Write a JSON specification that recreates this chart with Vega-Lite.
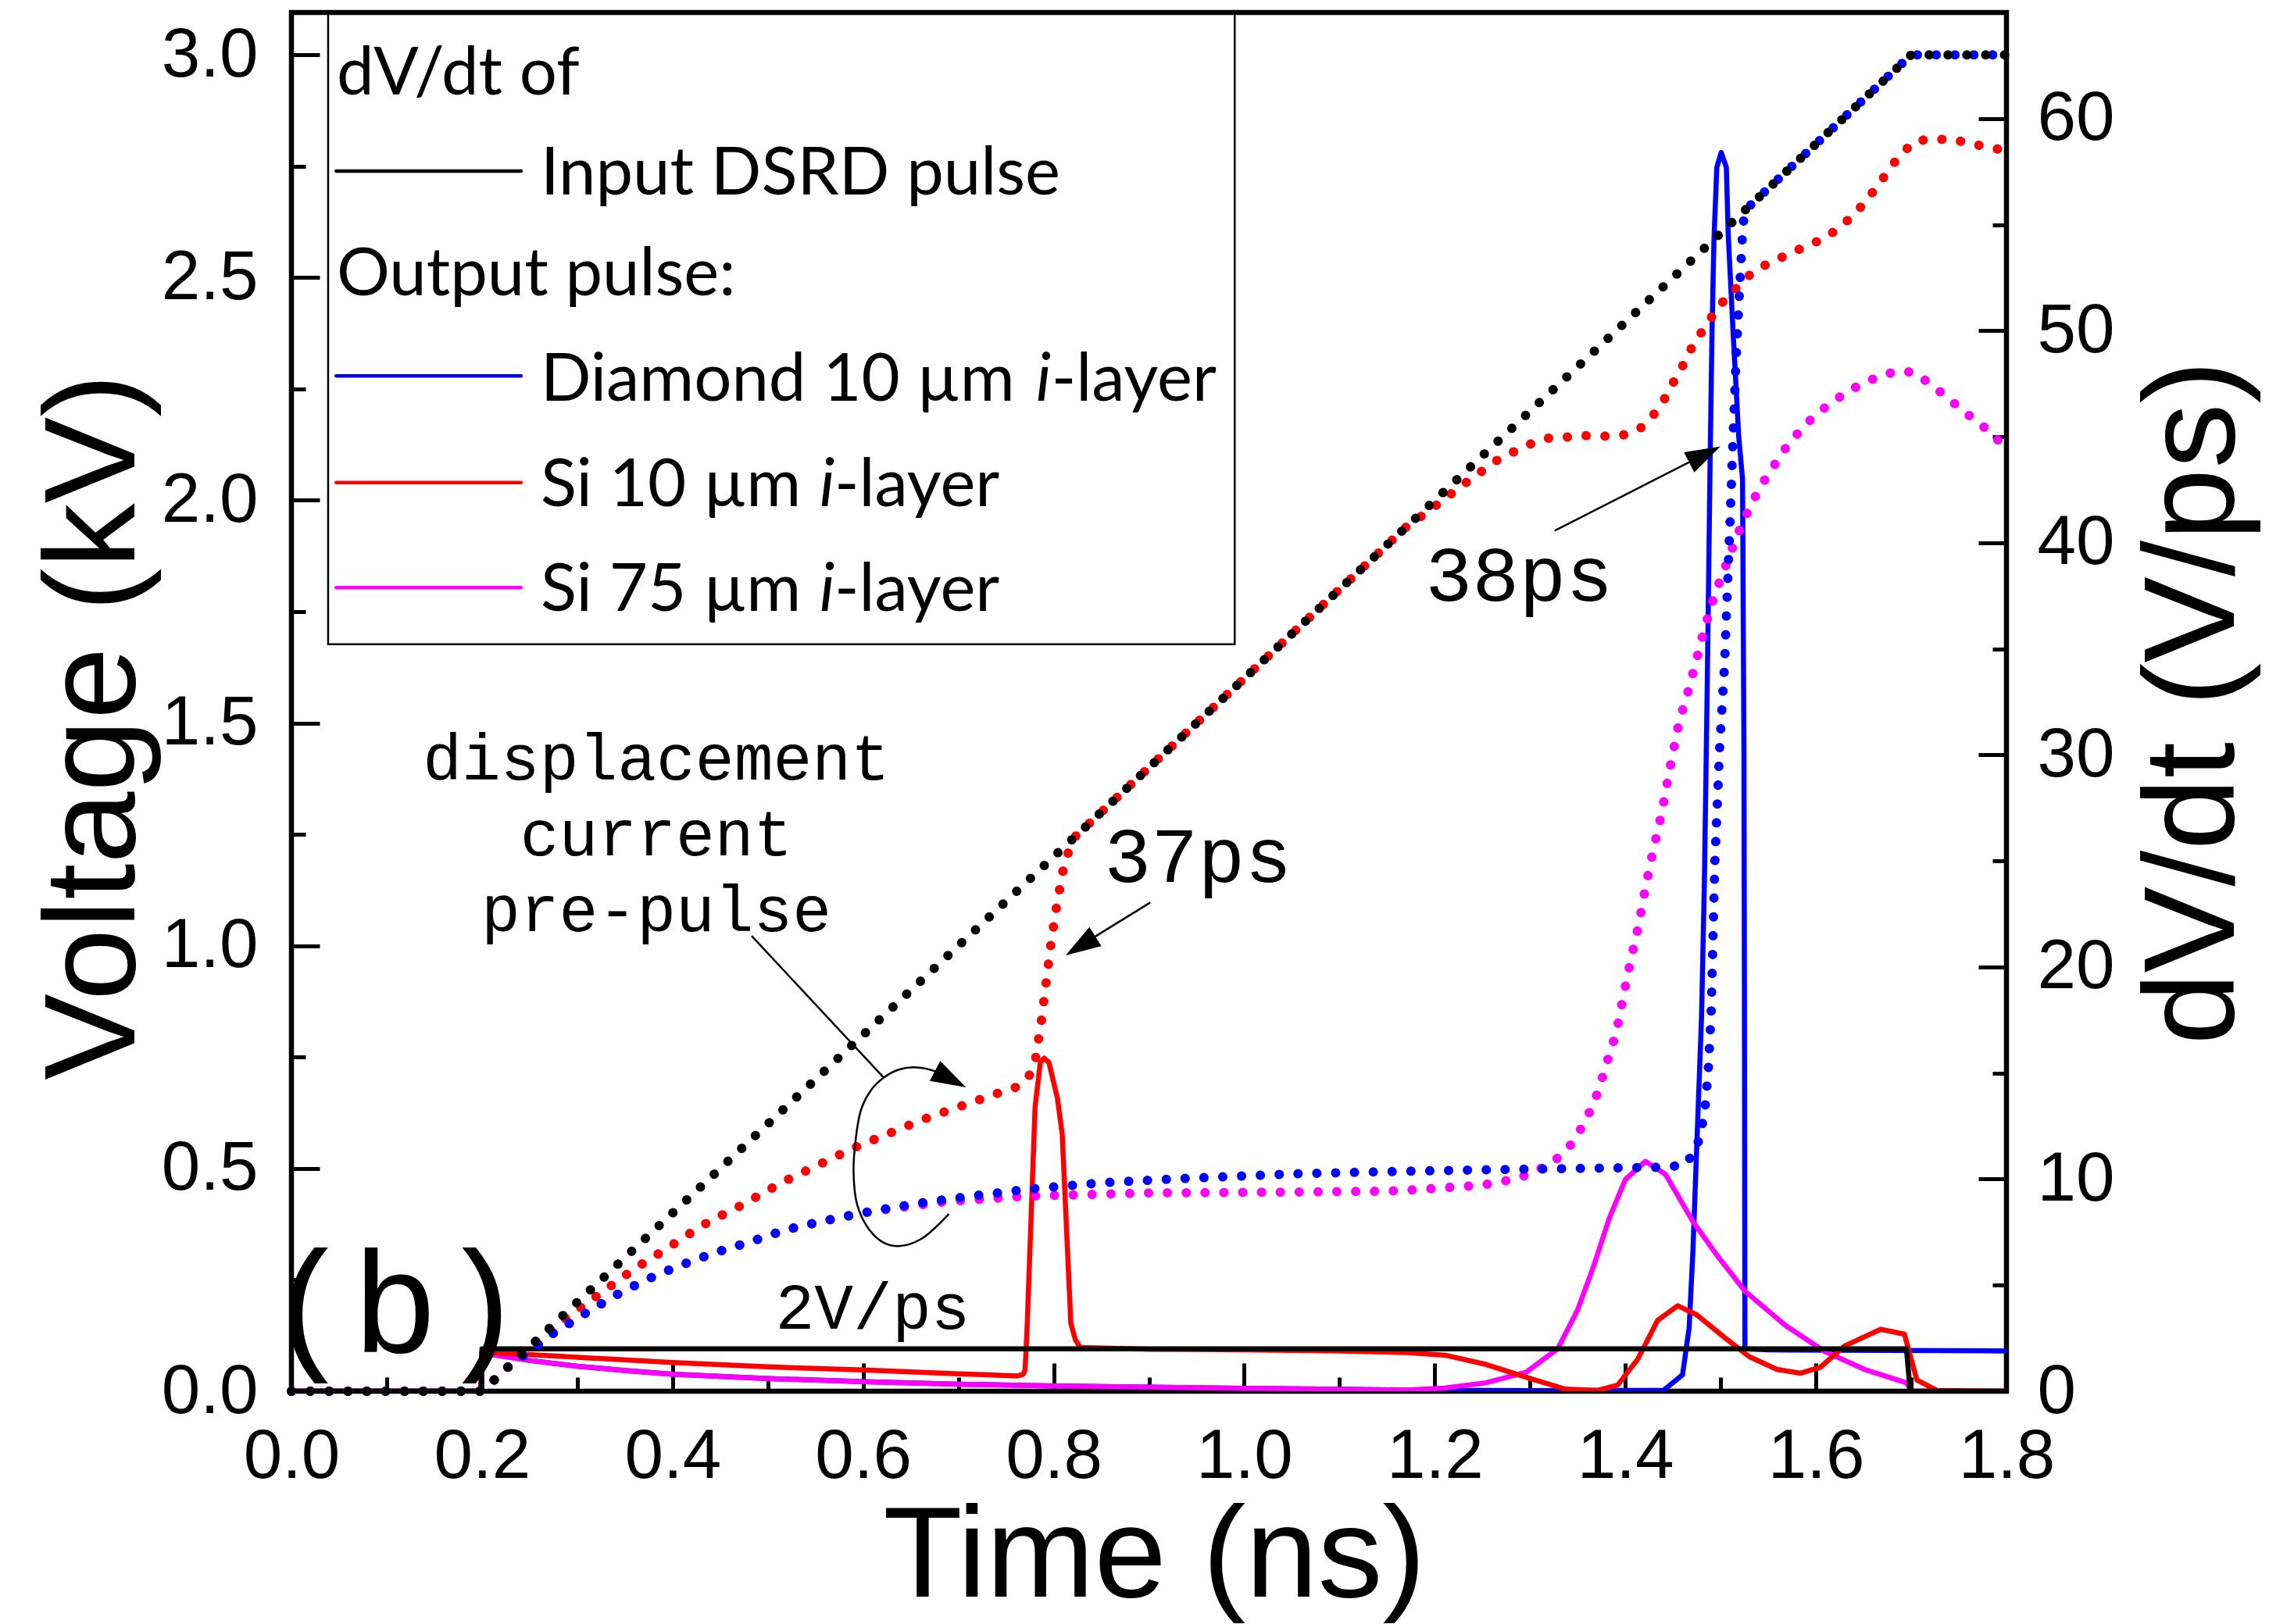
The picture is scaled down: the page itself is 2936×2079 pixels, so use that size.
{
  "$schema": "https://vega.github.io/schema/vega-lite/v6.json",
  "width": 2195,
  "height": 1765,
  "autosize": {"type": "none"},
  "padding": {"left": 373, "top": 16, "right": 368, "bottom": 298},
  "background": "white",
  "config": {
    "view": {"stroke": "black", "strokeWidth": 6.5},
    "axis": {
      "domain": false, "grid": false, "zindex": 1,
      "labelFont": "Liberation Sans", "labelFontSize": 89, "labelColor": "black",
      "labelFlush": false, "labelOverlap": false,
      "titleFont": "Liberation Sans", "titleFontSize": 166, "titleFontWeight": "normal", "titleColor": "black",
      "tickColor": "black", "tickWidth": 5
    }
  },
  "resolve": {"scale": {"y": "independent"}, "axis": {"x": "independent", "y": "independent"}},
  "datasets": {
    "volt": [
      {"s":"si75","t":0,"v":0},{"s":"si75","t":0.2,"v":0},{"s":"si75","t":0.215,"v":0.03},{"s":"si75","t":0.228,"v":0.056},{"s":"si75","t":0.25,"v":0.09},{"s":"si75","t":0.275,"v":0.13},{"s":"si75","t":0.307,"v":0.173},{"s":"si75","t":0.34,"v":0.215},{"s":"si75","t":0.371,"v":0.249},{"s":"si75","t":0.404,"v":0.279},{"s":"si75","t":0.443,"v":0.31},{"s":"si75","t":0.481,"v":0.335},{"s":"si75","t":0.518,"v":0.362},{"s":"si75","t":0.556,"v":0.381},{"s":"si75","t":0.594,"v":0.398},{"s":"si75","t":0.63,"v":0.41},{"s":"si75","t":0.684,"v":0.425},{"s":"si75","t":0.77,"v":0.438},{"s":"si75","t":0.9,"v":0.445},{"s":"si75","t":1.05,"v":0.447},{"s":"si75","t":1.15,"v":0.449},{"s":"si75","t":1.178,"v":0.452},{"s":"si75","t":1.199,"v":0.455},{"s":"si75","t":1.239,"v":0.461},{"s":"si75","t":1.26,"v":0.466},{"s":"si75","t":1.278,"v":0.474},{"s":"si75","t":1.298,"v":0.486},{"s":"si75","t":1.317,"v":0.506},{"s":"si75","t":1.33,"v":0.525},{"s":"si75","t":1.343,"v":0.554},{"s":"si75","t":1.353,"v":0.588},{"s":"si75","t":1.362,"v":0.625},{"s":"si75","t":1.37,"v":0.665},{"s":"si75","t":1.376,"v":0.705},{"s":"si75","t":1.382,"v":0.747},{"s":"si75","t":1.388,"v":0.788},{"s":"si75","t":1.393,"v":0.831},{"s":"si75","t":1.397,"v":0.877},{"s":"si75","t":1.405,"v":0.961},{"s":"si75","t":1.414,"v":1.046},{"s":"si75","t":1.421,"v":1.129},{"s":"si75","t":1.429,"v":1.212},{"s":"si75","t":1.438,"v":1.296},{"s":"si75","t":1.446,"v":1.39},{"s":"si75","t":1.457,"v":1.509},{"s":"si75","t":1.463,"v":1.548},{"s":"si75","t":1.473,"v":1.628},{"s":"si75","t":1.483,"v":1.712},{"s":"si75","t":1.494,"v":1.79},{"s":"si75","t":1.504,"v":1.845},{"s":"si75","t":1.516,"v":1.914},{"s":"si75","t":1.524,"v":1.954},{"s":"si75","t":1.532,"v":1.99},{"s":"si75","t":1.54,"v":2.023},{"s":"si75","t":1.55,"v":2.059},{"s":"si75","t":1.56,"v":2.09},{"s":"si75","t":1.57,"v":2.123},{"s":"si75","t":1.585,"v":2.16},{"s":"si75","t":1.6,"v":2.193},{"s":"si75","t":1.616,"v":2.218},{"s":"si75","t":1.633,"v":2.244},{"s":"si75","t":1.652,"v":2.265},{"s":"si75","t":1.671,"v":2.282},{"s":"si75","t":1.689,"v":2.291},{"s":"si75","t":1.704,"v":2.286},{"s":"si75","t":1.72,"v":2.261},{"s":"si75","t":1.735,"v":2.236},{"s":"si75","t":1.75,"v":2.209},{"s":"si75","t":1.764,"v":2.185},{"s":"si75","t":1.779,"v":2.16},{"s":"si75","t":1.793,"v":2.131},{"s":"si75","t":1.8,"v":2.125},
      {"s":"si10","t":0,"v":0},{"s":"si10","t":0.2,"v":0},{"s":"si10","t":0.215,"v":0.03},{"s":"si10","t":0.26,"v":0.117},{"s":"si10","t":0.292,"v":0.17},{"s":"si10","t":0.326,"v":0.222},{"s":"si10","t":0.358,"v":0.272},{"s":"si10","t":0.393,"v":0.319},{"s":"si10","t":0.426,"v":0.365},{"s":"si10","t":0.444,"v":0.388},{"s":"si10","t":0.462,"v":0.405},{"s":"si10","t":0.516,"v":0.47},{"s":"si10","t":0.59,"v":0.546},{"s":"si10","t":0.664,"v":0.611},{"s":"si10","t":0.74,"v":0.668},{"s":"si10","t":0.76,"v":0.682},{"s":"si10","t":0.774,"v":0.707},{"s":"si10","t":0.781,"v":0.747},{"s":"si10","t":0.787,"v":0.83},{"s":"si10","t":0.792,"v":0.916},{"s":"si10","t":0.797,"v":1.002},{"s":"si10","t":0.803,"v":1.088},{"s":"si10","t":0.81,"v":1.171},{"s":"si10","t":0.816,"v":1.214},{"s":"si10","t":0.823,"v":1.246},{"s":"si10","t":1.17,"v":1.94},{"s":"si10","t":1.195,"v":1.978},{"s":"si10","t":1.212,"v":2.006},{"s":"si10","t":1.229,"v":2.034},{"s":"si10","t":1.246,"v":2.06},{"s":"si10","t":1.263,"v":2.087},{"s":"si10","t":1.281,"v":2.107},{"s":"si10","t":1.3,"v":2.126},{"s":"si10","t":1.318,"v":2.139},{"s":"si10","t":1.339,"v":2.142},{"s":"si10","t":1.359,"v":2.145},{"s":"si10","t":1.379,"v":2.144},{"s":"si10","t":1.399,"v":2.147},{"s":"si10","t":1.415,"v":2.16},{"s":"si10","t":1.429,"v":2.19},{"s":"si10","t":1.441,"v":2.227},{"s":"si10","t":1.451,"v":2.267},{"s":"si10","t":1.461,"v":2.305},{"s":"si10","t":1.47,"v":2.344},{"s":"si10","t":1.481,"v":2.381},{"s":"si10","t":1.492,"v":2.416},{"s":"si10","t":1.504,"v":2.45},{"s":"si10","t":1.533,"v":2.511},{"s":"si10","t":1.551,"v":2.533},{"s":"si10","t":1.57,"v":2.551},{"s":"si10","t":1.589,"v":2.57},{"s":"si10","t":1.607,"v":2.586},{"s":"si10","t":1.623,"v":2.609},{"s":"si10","t":1.638,"v":2.637},{"s":"si10","t":1.652,"v":2.67},{"s":"si10","t":1.665,"v":2.707},{"s":"si10","t":1.677,"v":2.742},{"s":"si10","t":1.688,"v":2.775},{"s":"si10","t":1.705,"v":2.807},{"s":"si10","t":1.725,"v":2.811},{"s":"si10","t":1.745,"v":2.809},{"s":"si10","t":1.765,"v":2.8},{"s":"si10","t":1.785,"v":2.79},{"s":"si10","t":1.8,"v":2.786},
      {"s":"diamond","t":0,"v":0},{"s":"diamond","t":0.2,"v":0},{"s":"diamond","t":0.215,"v":0.03},{"s":"diamond","t":0.228,"v":0.056},{"s":"diamond","t":0.25,"v":0.09},{"s":"diamond","t":0.275,"v":0.13},{"s":"diamond","t":0.307,"v":0.173},{"s":"diamond","t":0.34,"v":0.215},{"s":"diamond","t":0.371,"v":0.249},{"s":"diamond","t":0.404,"v":0.279},{"s":"diamond","t":0.443,"v":0.31},{"s":"diamond","t":0.481,"v":0.335},{"s":"diamond","t":0.518,"v":0.362},{"s":"diamond","t":0.556,"v":0.381},{"s":"diamond","t":0.594,"v":0.398},{"s":"diamond","t":0.611,"v":0.405},{"s":"diamond","t":0.668,"v":0.425},{"s":"diamond","t":0.714,"v":0.438},{"s":"diamond","t":0.771,"v":0.453},{"s":"diamond","t":0.851,"v":0.468},{"s":"diamond","t":0.931,"v":0.477},{"s":"diamond","t":1.051,"v":0.488},{"s":"diamond","t":1.15,"v":0.493},{"s":"diamond","t":1.25,"v":0.497},{"s":"diamond","t":1.35,"v":0.5},{"s":"diamond","t":1.441,"v":0.503},{"s":"diamond","t":1.463,"v":0.508},{"s":"diamond","t":1.475,"v":0.547},{"s":"diamond","t":1.48,"v":0.589},{"s":"diamond","t":1.4835,"v":0.632},{"s":"diamond","t":1.487,"v":0.719},{"s":"diamond","t":1.489,"v":0.805},{"s":"diamond","t":1.49,"v":0.846},{"s":"diamond","t":1.494,"v":1.19},{"s":"diamond","t":1.499,"v":1.447},{"s":"diamond","t":1.504,"v":1.626},{"s":"diamond","t":1.507,"v":1.794},{"s":"diamond","t":1.51,"v":1.961},{"s":"diamond","t":1.513,"v":2.14},{"s":"diamond","t":1.516,"v":2.308},{"s":"diamond","t":1.52,"v":2.48},{"s":"diamond","t":1.523,"v":2.6},{"s":"diamond","t":1.525,"v":2.65},{"s":"diamond","t":1.7,"v":3.0},{"s":"diamond","t":1.8,"v":3.0},
      {"s":"input","t":0,"v":0},{"s":"input","t":0.2,"v":0},{"s":"input","t":1.7,"v":3.0},{"s":"input","t":1.8,"v":3.0}
    ],
    "dvdt": [
      {"s":"diamond","t":0,"d":0},{"s":"diamond","t":0.199,"d":0},{"s":"diamond","t":0.2,"d":1.8},{"s":"diamond","t":0.25,"d":1.45},{"s":"diamond","t":0.3,"d":1.18},{"s":"diamond","t":0.35,"d":0.98},{"s":"diamond","t":0.4,"d":0.8},{"s":"diamond","t":0.5,"d":0.6},{"s":"diamond","t":0.6,"d":0.45},{"s":"diamond","t":0.7,"d":0.33},{"s":"diamond","t":0.8,"d":0.25},{"s":"diamond","t":0.9,"d":0.19},{"s":"diamond","t":1.0,"d":0.14},{"s":"diamond","t":1.1,"d":0.09},{"s":"diamond","t":1.2,"d":0.05},{"s":"diamond","t":1.3,"d":0.03},{"s":"diamond","t":1.44,"d":0.04},{"s":"diamond","t":1.46,"d":0.77},{"s":"diamond","t":1.467,"d":3.0},{"s":"diamond","t":1.471,"d":6.7},{"s":"diamond","t":1.475,"d":11.6},{"s":"diamond","t":1.48,"d":17.7},{"s":"diamond","t":1.483,"d":24.1},{"s":"diamond","t":1.486,"d":33.4},{"s":"diamond","t":1.489,"d":44},{"s":"diamond","t":1.491,"d":50},{"s":"diamond","t":1.493,"d":54.3},{"s":"diamond","t":1.496,"d":57.7},{"s":"diamond","t":1.5006,"d":58.4},{"s":"diamond","t":1.506,"d":57.7},{"s":"diamond","t":1.508,"d":54.5},{"s":"diamond","t":1.513,"d":50},{"s":"diamond","t":1.519,"d":45},{"s":"diamond","t":1.523,"d":43},{"s":"diamond","t":1.5245,"d":30},{"s":"diamond","t":1.525,"d":17.8},{"s":"diamond","t":1.5255,"d":2.0},{"s":"diamond","t":1.55,"d":1.95},{"s":"diamond","t":1.8,"d":1.9},
      {"s":"si75","t":0,"d":0},{"s":"si75","t":0.199,"d":0},{"s":"si75","t":0.2,"d":1.8},{"s":"si75","t":0.25,"d":1.45},{"s":"si75","t":0.3,"d":1.18},{"s":"si75","t":0.35,"d":0.98},{"s":"si75","t":0.4,"d":0.8},{"s":"si75","t":0.5,"d":0.6},{"s":"si75","t":0.6,"d":0.45},{"s":"si75","t":0.7,"d":0.33},{"s":"si75","t":0.8,"d":0.25},{"s":"si75","t":0.9,"d":0.19},{"s":"si75","t":1.0,"d":0.14},{"s":"si75","t":1.1,"d":0.09},{"s":"si75","t":1.17,"d":0.06},{"s":"si75","t":1.21,"d":0.15},{"s":"si75","t":1.254,"d":0.4},{"s":"si75","t":1.296,"d":0.9},{"s":"si75","t":1.329,"d":2.0},{"s":"si75","t":1.35,"d":3.84},{"s":"si75","t":1.367,"d":5.93},{"s":"si75","t":1.383,"d":8.14},{"s":"si75","t":1.4,"d":9.98},{"s":"si75","t":1.421,"d":10.84},{"s":"si75","t":1.442,"d":10.23},{"s":"si75","t":1.471,"d":8.0},{"s":"si75","t":1.496,"d":6.42},{"s":"si75","t":1.526,"d":4.7},{"s":"si75","t":1.568,"d":3.1},{"s":"si75","t":1.609,"d":1.88},{"s":"si75","t":1.651,"d":1.03},{"s":"si75","t":1.695,"d":0.4},{"s":"si75","t":1.7,"d":0},{"s":"si75","t":1.8,"d":0},
      {"s":"si10","t":0,"d":0},{"s":"si10","t":0.199,"d":0},{"s":"si10","t":0.2,"d":1.85},{"s":"si10","t":0.3,"d":1.6},{"s":"si10","t":0.4,"d":1.35},{"s":"si10","t":0.5,"d":1.15},{"s":"si10","t":0.6,"d":1.0},{"s":"si10","t":0.7,"d":0.82},{"s":"si10","t":0.762,"d":0.72},{"s":"si10","t":0.768,"d":0.8},{"s":"si10","t":0.77,"d":1.0},{"s":"si10","t":0.772,"d":2.85},{"s":"si10","t":0.7805,"d":13.4},{"s":"si10","t":0.786,"d":15.5},{"s":"si10","t":0.79,"d":15.7},{"s":"si10","t":0.795,"d":15.5},{"s":"si10","t":0.804,"d":13.8},{"s":"si10","t":0.809,"d":12.1},{"s":"si10","t":0.818,"d":3.2},{"s":"si10","t":0.823,"d":2.4},{"s":"si10","t":0.828,"d":2.06},{"s":"si10","t":0.9,"d":1.98},{"s":"si10","t":1.0,"d":1.95},{"s":"si10","t":1.1,"d":1.9},{"s":"si10","t":1.17,"d":1.82},{"s":"si10","t":1.212,"d":1.69},{"s":"si10","t":1.254,"d":1.26},{"s":"si10","t":1.296,"d":0.66},{"s":"si10","t":1.337,"d":0.1},{"s":"si10","t":1.371,"d":0.04},{"s":"si10","t":1.392,"d":0.29},{"s":"si10","t":1.413,"d":1.51},{"s":"si10","t":1.434,"d":3.35},{"s":"si10","t":1.455,"d":4.03},{"s":"si10","t":1.475,"d":3.6},{"s":"si10","t":1.505,"d":2.5},{"s":"si10","t":1.53,"d":1.63},{"s":"si10","t":1.559,"d":1.03},{"s":"si10","t":1.584,"d":0.85},{"s":"si10","t":1.605,"d":1.14},{"s":"si10","t":1.63,"d":2.13},{"s":"si10","t":1.668,"d":2.92},{"s":"si10","t":1.693,"d":2.69},{"s":"si10","t":1.697,"d":2.0},{"s":"si10","t":1.706,"d":0.53},{"s":"si10","t":1.727,"d":0.04},{"s":"si10","t":1.8,"d":0},
      {"s":"input","t":0,"d":0},{"s":"input","t":0.199,"d":0},{"s":"input","t":0.2,"d":2.0},{"s":"input","t":1.695,"d":2.0},{"s":"input","t":1.699,"d":0},{"s":"input","t":1.8,"d":0}
    ],
    "legendlines": [
      {"s":"input","t":0.047,"t2":0.241,"v":2.739},
      {"s":"diamond","t":0.047,"t2":0.241,"v":2.279},
      {"s":"si10","t":0.047,"t2":0.241,"v":2.04},
      {"s":"si75","t":0.047,"t2":0.241,"v":1.804}
    ],
    "legendtext": [
      {"txt":"dV/dt of","t":0.0475,"v":2.911},
      {"txt":"Input DSRD pulse","t":0.2615,"v":2.686},
      {"txt":"Output pulse:","t":0.0475,"v":2.461},
      {"txt":"Diamond 10 µm","t":0.2615,"v":2.223},
      {"txt":"-layer","t":0.7976,"v":2.223},
      {"txt":"Si 10 µm","t":0.2615,"v":1.986},
      {"txt":"-layer","t":0.5699,"v":1.986},
      {"txt":"Si 75 µm","t":0.2615,"v":1.751},
      {"txt":"-layer","t":0.5699,"v":1.751}
    ],
    "legenditalic": [
      {"txt":"i","t":0.7814,"v":2.223},
      {"txt":"i","t":0.5542,"v":1.986},
      {"txt":"i","t":0.5542,"v":1.751}
    ],
    "arrows": [
      {"g":"p","i":1,"t":0.483,"v":1.022},{"g":"p","i":2,"t":0.6217,"v":0.704},
      {"g":"e","i":1,"t":0.69,"v":0.398},{"g":"e","i":2,"t":0.661,"v":0.342},{"g":"e","i":3,"t":0.639,"v":0.326},{"g":"e","i":4,"t":0.622,"v":0.333},{"g":"e","i":5,"t":0.606,"v":0.364},{"g":"e","i":6,"t":0.594,"v":0.417},{"g":"e","i":7,"t":0.59,"v":0.489},{"g":"e","i":8,"t":0.592,"v":0.561},{"g":"e","i":9,"t":0.598,"v":0.633},{"g":"e","i":10,"t":0.6087,"v":0.677},{"g":"e","i":11,"t":0.6217,"v":0.704},{"g":"e","i":12,"t":0.6375,"v":0.722},{"g":"e","i":13,"t":0.6558,"v":0.727},{"g":"e","i":14,"t":0.6767,"v":0.7175},{"g":"e","i":15,"t":0.7,"v":0.69},
      {"g":"a","i":1,"t":0.9014,"v":1.097},{"g":"a","i":2,"t":0.818,"v":0.987},
      {"g":"b","i":1,"t":1.3258,"v":1.9316},{"g":"b","i":2,"t":1.494,"v":2.115}
    ]
  },
  "layer": [
    {
      "data": {"values": [{"t": 0.0385, "t2": 0.99, "v": 1.677, "v2": 3.095}]},
      "mark": {"type": "rect", "filled": false, "stroke": "black", "strokeWidth": 2.5},
      "encoding": {
        "x": {"field": "t", "type": "quantitative", "scale": {"domain": [0, 1.8], "nice": false, "zero": false},
          "axis": {"orient": "bottom", "values": [0.1, 0.3, 0.5, 0.7, 0.9, 1.1, 1.3, 1.5, 1.7], "labels": false, "tickSize": -18, "title": null}},
        "x2": {"field": "t2"},
        "y": {"field": "v", "type": "quantitative", "scale": {"domain": [0, 3.095], "nice": false, "zero": false},
          "axis": {"orient": "left", "values": [0.25, 0.75, 1.25, 1.75, 2.25, 2.75], "labels": false, "tickSize": -18, "title": null}},
        "y2": {"field": "v2"}
      }
    },
    {
      "data": {"name": "dvdt"},
      "mark": {"type": "line", "strokeWidth": 6.5, "strokeJoin": "round", "clip": true},
      "encoding": {
        "x": {"field": "t", "type": "quantitative", "scale": {"domain": [0, 1.8], "nice": false, "zero": false}, "axis": null},
        "y": {"field": "d", "type": "quantitative", "scale": {"domain": [0, 65], "nice": false, "zero": false},
          "axis": {"orient": "right", "values": [0, 10, 20, 30, 40, 50, 60], "format": "d", "tickSize": -36, "labelPadding": 75,
            "title": "dV/dt (V/ps)", "titleAngle": -90, "titleBaseline": "alphabetic", "titleAlign": "center", "titleX": 290, "titleY": 883}},
        "color": {"field": "s", "type": "nominal", "legend": null,
          "scale": {"domain": ["input", "diamond", "si10", "si75"], "range": ["#000000", "#0000ff", "#ff0000", "#ff00ff"]}}
      }
    },
    {
      "data": {"name": "volt"},
      "mark": {"type": "line", "strokeWidth": 12, "strokeCap": "round", "strokeDash": [0.1, 24]},
      "encoding": {
        "x": {"field": "t", "type": "quantitative", "scale": {"domain": [0, 1.8], "nice": false, "zero": false},
          "axis": {"orient": "bottom", "values": [0, 0.2, 0.4, 0.6, 0.8, 1, 1.2, 1.4, 1.6, 1.8], "format": ".1f", "tickSize": -36,
            "labelPadding": 146, "labelBaseline": "alphabetic",
            "title": "Time (ns)", "titleBaseline": "alphabetic", "titleAlign": "center", "titleX": 1104, "titleY": 262}},
        "y": {"field": "v", "type": "quantitative", "scale": {"domain": [0, 3.095], "nice": false, "zero": false},
          "axis": {"orient": "left", "values": [0, 0.5, 1, 1.5, 2, 2.5, 3], "format": ".1f", "tickSize": -36, "labelPadding": 79,
            "title": "Voltage (kV)", "titleAngle": -90, "titleBaseline": "alphabetic", "titleAlign": "center", "titleX": -202, "titleY": 914}},
        "color": {"field": "s", "type": "nominal", "legend": null}
      }
    },
    {
      "data": {"values": [{"txt": "2V/ps", "t": 0.508, "d": 2.95}]},
      "mark": {"type": "text", "font": "Liberation Mono", "fontSize": 83, "align": "left", "baseline": "alphabetic", "color": "black"},
      "encoding": {
        "x": {"field": "t", "type": "quantitative", "scale": {"domain": [0, 1.8], "nice": false, "zero": false}, "axis": null},
        "y": {"field": "d", "type": "quantitative", "scale": {"domain": [0, 65], "nice": false, "zero": false},
          "axis": {"orient": "right", "values": [5, 15, 25, 35, 45, 55], "labels": false, "tickSize": -18, "title": null}},
        "text": {"field": "txt"}
      }
    },
    {
      "data": {"name": "legendlines"},
      "mark": {"type": "rule", "strokeWidth": 4.5, "strokeCap": "round"},
      "encoding": {
        "x": {"field": "t", "type": "quantitative", "scale": {"domain": [0, 1.8], "nice": false, "zero": false}, "axis": null},
        "x2": {"field": "t2"},
        "y": {"field": "v", "type": "quantitative", "scale": {"domain": [0, 3.095], "nice": false, "zero": false}, "axis": null},
        "color": {"field": "s", "type": "nominal", "legend": null}
      }
    },
    {
      "data": {"name": "legendtext"},
      "mark": {"type": "text", "font": "Lato", "fontSize": 85, "align": "left", "baseline": "alphabetic", "color": "black"},
      "encoding": {
        "x": {"field": "t", "type": "quantitative", "scale": {"domain": [0, 1.8], "nice": false, "zero": false}, "axis": null},
        "y": {"field": "v", "type": "quantitative", "scale": {"domain": [0, 3.095], "nice": false, "zero": false}, "axis": null},
        "text": {"field": "txt"}
      }
    },
    {
      "data": {"name": "legenditalic"},
      "mark": {"type": "text", "font": "Lato", "fontSize": 85, "fontStyle": "italic", "align": "left", "baseline": "alphabetic", "color": "black"},
      "encoding": {
        "x": {"field": "t", "type": "quantitative", "scale": {"domain": [0, 1.8], "nice": false, "zero": false}, "axis": null},
        "y": {"field": "v", "type": "quantitative", "scale": {"domain": [0, 3.095], "nice": false, "zero": false}, "axis": null},
        "text": {"field": "txt"}
      }
    },
    {
      "data": {"values": [
        {"txt": "displacement", "t": 0.383, "v": 1.373},
        {"txt": "current", "t": 0.383, "v": 1.203},
        {"txt": "pre-pulse", "t": 0.383, "v": 1.032}
      ]},
      "mark": {"type": "text", "font": "Liberation Mono", "fontSize": 83, "align": "center", "baseline": "alphabetic", "color": "black"},
      "encoding": {
        "x": {"field": "t", "type": "quantitative", "scale": {"domain": [0, 1.8], "nice": false, "zero": false}, "axis": null},
        "y": {"field": "v", "type": "quantitative", "scale": {"domain": [0, 3.095], "nice": false, "zero": false}, "axis": null},
        "text": {"field": "txt"}
      }
    },
    {
      "data": {"values": [
        {"txt": "37ps", "t": 0.853, "v": 1.143},
        {"txt": "38ps", "t": 1.19, "v": 1.774}
      ]},
      "mark": {"type": "text", "font": "Liberation Mono", "fontSize": 100, "align": "left", "baseline": "alphabetic", "color": "black"},
      "encoding": {
        "x": {"field": "t", "type": "quantitative", "scale": {"domain": [0, 1.8], "nice": false, "zero": false}, "axis": null},
        "y": {"field": "v", "type": "quantitative", "scale": {"domain": [0, 3.095], "nice": false, "zero": false}, "axis": null},
        "text": {"field": "txt"}
      }
    },
    {
      "data": {"values": [{"txt": "(b)", "t": 0.1088, "v": 0.086}]},
      "mark": {"type": "text", "font": "Liberation Mono", "fontSize": 185, "align": "center", "baseline": "alphabetic", "color": "black"},
      "encoding": {
        "x": {"field": "t", "type": "quantitative", "scale": {"domain": [0, 1.8], "nice": false, "zero": false}, "axis": null},
        "y": {"field": "v", "type": "quantitative", "scale": {"domain": [0, 3.095], "nice": false, "zero": false}, "axis": null},
        "text": {"field": "txt"}
      }
    },
    {
      "data": {"name": "arrows"},
      "mark": {"type": "line", "color": "black", "strokeWidth": 2.5, "interpolate": "catmull-rom"},
      "encoding": {
        "x": {"field": "t", "type": "quantitative", "scale": {"domain": [0, 1.8], "nice": false, "zero": false}, "axis": null},
        "y": {"field": "v", "type": "quantitative", "scale": {"domain": [0, 3.095], "nice": false, "zero": false}, "axis": null},
        "detail": {"field": "g"},
        "order": {"field": "i", "type": "quantitative"}
      }
    },
    {
      "data": {"values": [{"t": 0.708, "v": 0.682}]},
      "mark": {"type": "point", "shape": "M0,0L-1,-0.32L-1,0.32Z", "filled": true, "color": "black", "opacity": 1, "size": 8100, "angle": 28},
      "encoding": {
        "x": {"field": "t", "type": "quantitative", "scale": {"domain": [0, 1.8], "nice": false, "zero": false}, "axis": null},
        "y": {"field": "v", "type": "quantitative", "scale": {"domain": [0, 3.095], "nice": false, "zero": false}, "axis": null}
      }
    },
    {
      "data": {"values": [{"t": 0.8125, "v": 0.9786}]},
      "mark": {"type": "point", "shape": "M0,0L-1,-0.32L-1,0.32Z", "filled": true, "color": "black", "opacity": 1, "size": 8100, "angle": 148},
      "encoding": {
        "x": {"field": "t", "type": "quantitative", "scale": {"domain": [0, 1.8], "nice": false, "zero": false}, "axis": null},
        "y": {"field": "v", "type": "quantitative", "scale": {"domain": [0, 3.095], "nice": false, "zero": false}, "axis": null}
      }
    },
    {
      "data": {"values": [{"t": 1.4998, "v": 2.121}]},
      "mark": {"type": "point", "shape": "M0,0L-1,-0.32L-1,0.32Z", "filled": true, "color": "black", "opacity": 1, "size": 8100, "angle": 333},
      "encoding": {
        "x": {"field": "t", "type": "quantitative", "scale": {"domain": [0, 1.8], "nice": false, "zero": false}, "axis": null},
        "y": {"field": "v", "type": "quantitative", "scale": {"domain": [0, 3.095], "nice": false, "zero": false}, "axis": null}
      }
    }
  ]
}
